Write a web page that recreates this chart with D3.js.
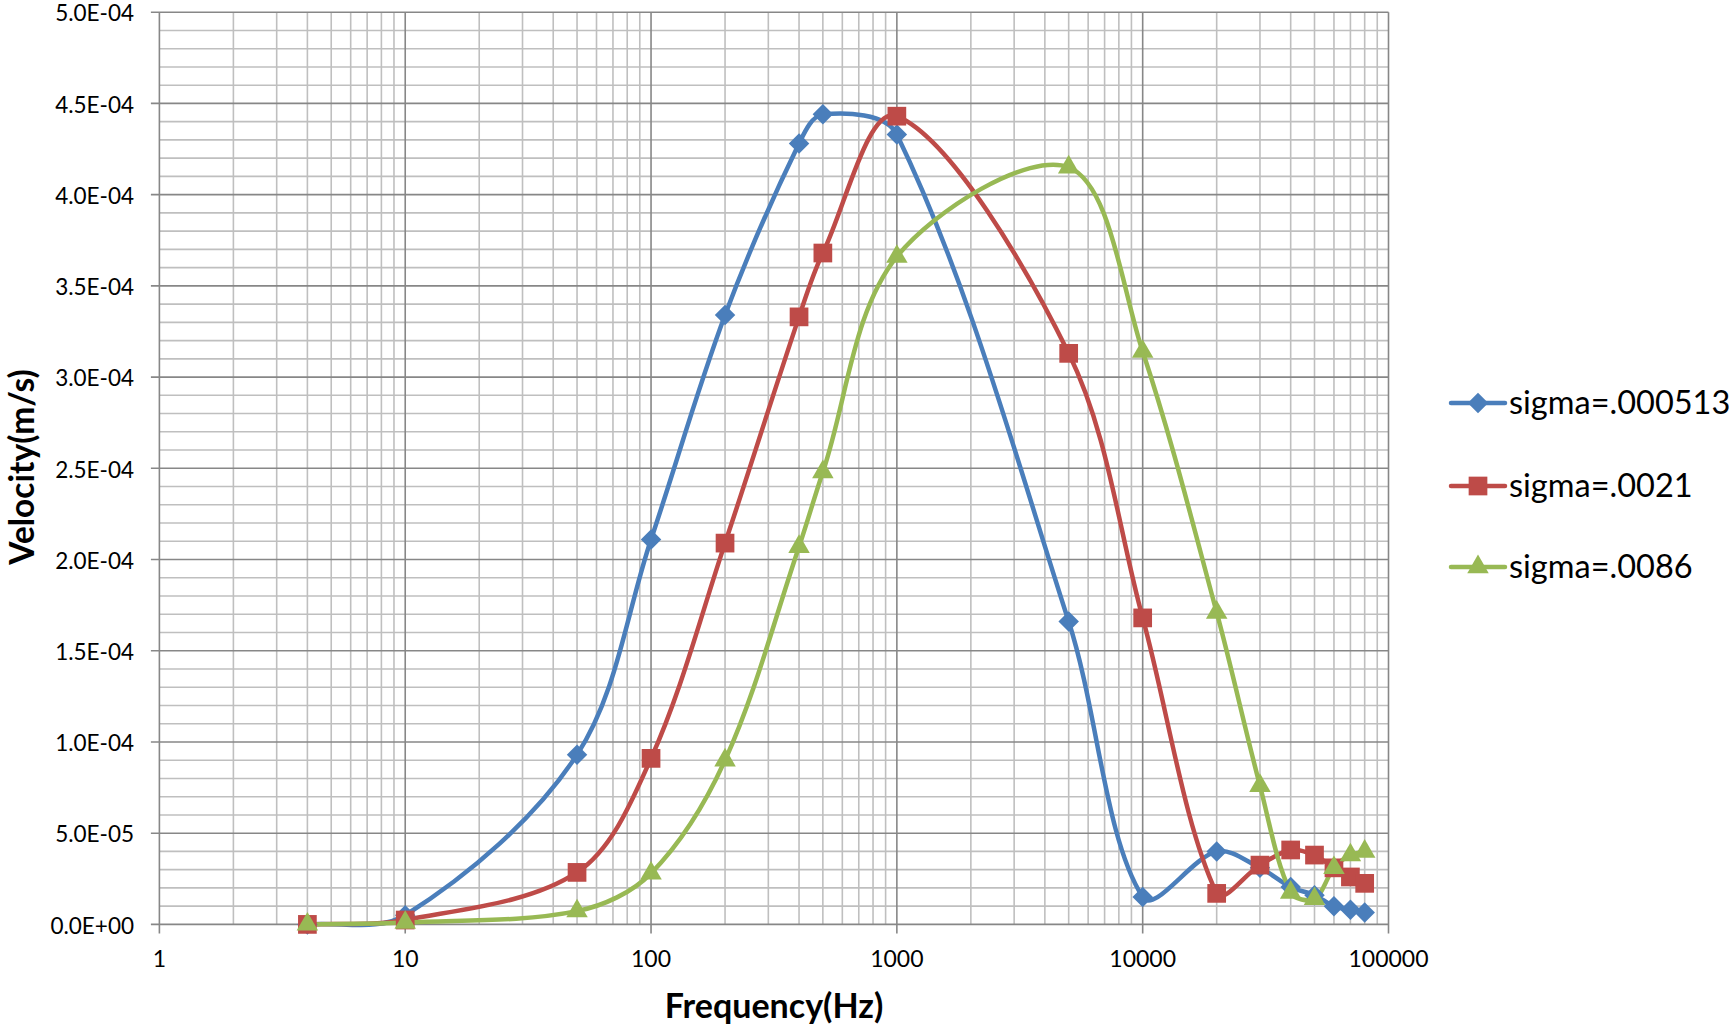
<!DOCTYPE html>
<html><head><meta charset="utf-8">
<script src="https://cdn.jsdelivr.net/npm/d3@7"></script>
<style>body{margin:0;background:#fff}svg{display:block}</style>
</head><body>
<svg id="c" width="1736" height="1024"></svg>
<script>
const seriesNames = ["sigma=.000513", "sigma=.0021", "sigma=.0086"];
const freqBlue  = [4, 10, 50, 100, 200, 400, 500, 1000, 5000, 10000, 20000, 30000, 40000, 50000, 60000, 70000, 80000];
const velBlue   = [0, 5e-6, 9.3e-5, 2.11e-4, 3.34e-4, 4.28e-4, 4.44e-4, 4.33e-4, 1.66e-4, 1.5e-5, 4.0e-5, 3.1e-5, 2.05e-5, 1.6e-5, 1.0e-5, 8e-6, 6.5e-6];
const freqRed   = [4, 10, 50, 100, 200, 400, 500, 1000, 5000, 10000, 20000, 30000, 40000, 50000, 60000, 70000, 80000];
const velRed    = [0, 2.4e-6, 2.85e-5, 9.1e-5, 2.09e-4, 3.33e-4, 3.68e-4, 4.43e-4, 3.13e-4, 1.68e-4, 1.7e-5, 3.25e-5, 4.08e-5, 3.8e-5, 3.1e-5, 2.6e-5, 2.25e-5];
const freqGreen = [4, 10, 50, 100, 200, 400, 500, 1000, 5000, 10000, 20000, 30000, 40000, 50000, 60000, 70000, 80000];
const velGreen  = [0, 1e-6, 7.3e-6, 2.8e-5, 9.0e-5, 2.07e-4, 2.48e-4, 3.66e-4, 4.15e-4, 3.14e-4, 1.71e-4, 7.6e-5, 1.75e-5, 1.4e-5, 3.1e-5, 3.8e-5, 4.0e-5];
const xTickLabels = ["1", "10", "100", "1000", "10000", "100000"];
const yTickLabels = ["0.0E+00","5.0E-05","1.0E-04","1.5E-04","2.0E-04","2.5E-04","3.0E-04","3.5E-04","4.0E-04","4.5E-04","5.0E-04"];
const xTitle = "Frequency(Hz)";
const yTitle = "Velocity(m/s)";

const colors = ["#4a7ebb", "#be4b48", "#98b954"];
const series = [
  {name: seriesNames[0], f: freqBlue, v: velBlue},
  {name: seriesNames[1], f: freqRed, v: velRed},
  {name: seriesNames[2], f: freqGreen, v: velGreen}
];
// marker: symbol type, area, rotation
const markers = [
  {type: d3.symbolSquare, size: 210, rot: 45},
  {type: d3.symbolSquare, size: 350, rot: 0},
  {type: d3.symbolTriangle, size: 200, rot: 0}
];

// Spreadsheet-style smoothing: Bezier with tangents weighted by neighbouring segment lengths
function SmoothCurve(context) { this._context = context; }
SmoothCurve.prototype = {
  areaStart() {}, areaEnd() {},
  lineStart() { this._pts = []; },
  point(px, py) { this._pts.push([+px, +py]); },
  lineEnd() {
    const p = this._pts, c = this._context, n = p.length;
    if (!n) return;
    c.moveTo(p[0][0], p[0][1]);
    if (n === 1) return;
    const d = (a, b) => Math.hypot(b[0] - a[0], b[1] - a[1]);
    const f = 1 / 3;
    for (let i = 0; i < n - 1; i++) {
      const p0 = p[Math.max(i - 1, 0)], p1 = p[i], p2 = p[i + 1], p3 = p[Math.min(i + 2, n - 1)];
      const d01 = d(p0, p1), d12 = d(p1, p2), d23 = d(p2, p3);
      const s1 = (d01 + d12) ? f * d12 / (d01 + d12) : 0;
      const s2 = (d12 + d23) ? f * d12 / (d12 + d23) : 0;
      const c1 = [p1[0] + (p2[0] - p0[0]) * s1, p1[1] + (p2[1] - p0[1]) * s1];
      const c2 = [p2[0] - (p3[0] - p1[0]) * s2, p2[1] - (p3[1] - p1[1]) * s2];
      c.bezierCurveTo(c1[0], c1[1], c2[0], c2[1], p2[0], p2[1]);
    }
  }
};
const curveSmooth = ctx => new SmoothCurve(ctx);

const svg = d3.select("#c");
const L = 159.4, R = 1388.5, T = 12.2, B = 924.4;
const x = d3.scaleLog().domain([1, 1e5]).range([L, R]);
const y = d3.scaleLinear().domain([0, 5e-4]).range([B, T]);
const font = "Lato, 'Open Sans', sans-serif";

// grid
const g = svg.append("g");
const minorX = [];
for (let d = 1; d < 1e5; d *= 10) for (let k = 2; k <= 9; k++) minorX.push(d * k);
g.selectAll(".mx").data(minorX).enter().append("line")
  .attr("x1", d => x(d)).attr("x2", d => x(d)).attr("y1", T).attr("y2", B)
  .attr("stroke", "#bfbfbf").attr("stroke-width", 1.6);
const minorY = d3.range(0, 51).map(i => i * 1e-5).filter((d, i) => i % 5 !== 0);
g.selectAll(".my").data(minorY).enter().append("line")
  .attr("x1", L).attr("x2", R).attr("y1", d => y(d)).attr("y2", d => y(d))
  .attr("stroke", "#bfbfbf").attr("stroke-width", 1.6);
const majorX = xTickLabels.map(Number);
g.selectAll(".Mx").data(majorX).enter().append("line")
  .attr("x1", d => x(d)).attr("x2", d => x(d)).attr("y1", T).attr("y2", B + 9)
  .attr("stroke", "#878787").attr("stroke-width", 1.6);
const majorY = yTickLabels.map(Number);
g.selectAll(".My").data(majorY).enter().append("line")
  .attr("x1", L - 8.5).attr("x2", R).attr("y1", d => y(d)).attr("y2", d => y(d))
  .attr("stroke", "#878787").attr("stroke-width", 1.6);

// tick labels
svg.selectAll(".xl").data(xTickLabels).enter().append("text")
  .attr("x", d => x(+d)).attr("y", 967).attr("text-anchor", "middle")
  .attr("font-family", font).attr("font-size", 23).attr("fill", "#000").text(d => d);
svg.selectAll(".yl").data(yTickLabels).enter().append("text")
  .attr("x", 134).attr("y", d => y(+d) + 9.2).attr("text-anchor", "end")
  .attr("font-family", font).attr("font-size", 22.5).attr("fill", "#000").text(d => d);

// titles
svg.append("text").attr("x", 774).attr("y", 1018).attr("text-anchor", "middle")
  .attr("font-family", font).attr("font-weight", "bold").attr("font-size", 34).text(xTitle);
svg.append("text").attr("transform", "translate(34,467) rotate(-90)").attr("text-anchor", "middle")
  .attr("font-family", font).attr("font-weight", "bold").attr("font-size", 33.5).text(yTitle);

// lines
const line = d3.line().x(d => x(d[0])).y(d => y(d[1])).curve(curveSmooth);
series.forEach((s, i) => {
  const pts = s.f.map((f, j) => [f, s.v[j]]);
  svg.append("path").attr("d", line(pts)).attr("fill", "none")
    .attr("stroke", colors[i]).attr("stroke-width", 4.5).attr("stroke-linejoin", "round");
});
series.forEach((s, i) => {
  const pts = s.f.map((f, j) => [f, s.v[j]]);
  const m = markers[i];
  svg.append("g").selectAll("path").data(pts).enter().append("path")
    .attr("transform", d => `translate(${x(d[0])},${y(d[1])}) rotate(${m.rot})`)
    .attr("d", d3.symbol().type(m.type).size(m.size))
    .attr("fill", colors[i]);
});

// legend
const ly = [403, 486, 567];
series.forEach((s, i) => {
  const lg = svg.append("g");
  const m = markers[i];
  lg.append("line").attr("x1", 1451).attr("x2", 1505).attr("y1", ly[i]).attr("y2", ly[i])
    .attr("stroke", colors[i]).attr("stroke-width", 4.5).attr("stroke-linecap", "round");
  lg.append("path").attr("transform", `translate(1478,${ly[i]}) rotate(${m.rot})`)
    .attr("d", d3.symbol().type(m.type).size(m.size)).attr("fill", colors[i]);
  lg.append("text").attr("x", 1509).attr("y", ly[i] + 11).attr("font-family", font)
    .attr("font-size", 32.5).attr("fill", "#000").text(s.name);
});
</script>
</body></html>
